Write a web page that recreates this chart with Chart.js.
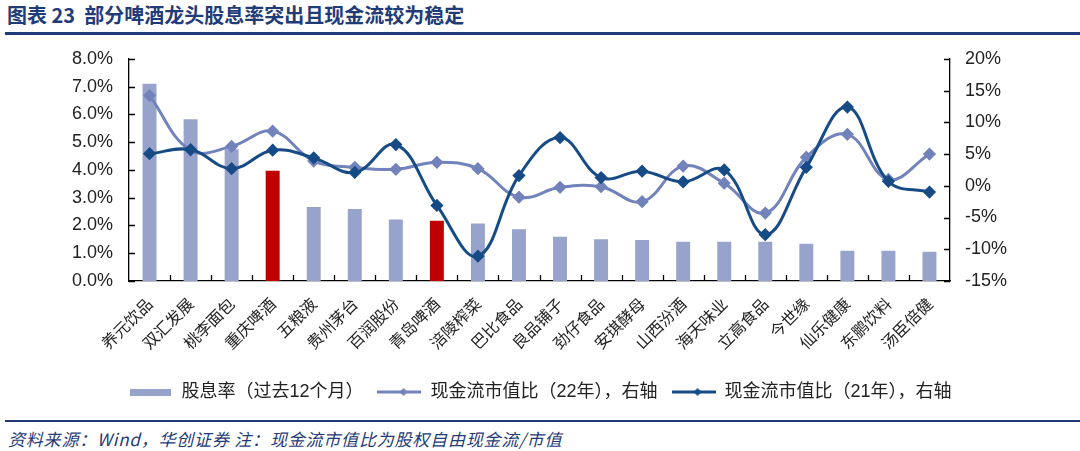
<!DOCTYPE html>
<html>
<head>
<meta charset="utf-8">
<script src="https://cdn.jsdelivr.net/npm/chart.js@4.4.0/dist/chart.umd.min.js"></script>
<style>
  body { margin: 0; width: 1080px; height: 451px; background: #fff; position: relative; overflow: hidden; font-family: "Noto Sans CJK SC", sans-serif; }
  #title { position: absolute; left: 7px; top: 0px; font-size: 20px; font-weight: bold; color: #1f3b78; white-space: pre; }
  #topline { position: absolute; left: 5px; right: 0; top: 32px; height: 3px; background: #1f3b78; }
  #chartBox { position: absolute; left: 0; top: 32px; width: 1080px; height: 379px; }
  #botline { position: absolute; left: 5px; right: 0; top: 420px; height: 2px; background: #1f3b78; }
  #source { position: absolute; left: 8px; top: 426px; font-size: 17px; letter-spacing: 0.8px; font-style: italic; color: #1f3b78; white-space: pre; }
</style>
</head>
<body>
<div id="title">图表 23  部分啤酒龙头股息率突出且现金流较为稳定</div>
<div id="topline"></div>
<div id="chartBox"><canvas id="comboChart"></canvas></div>
<div id="botline"></div>
<div id="source">资料来源：Wind，华创证券 注：现金流市值比为股权自由现金流/市值</div>

<script>
// categories and series
var categories = ['养元饮品', '双汇发展', '桃李面包', '重庆啤酒', '五粮液', '贵州茅台', '百润股份', '青岛啤酒', '涪陵榨菜', '巴比食品',
                  '良品铺子', '劲仔食品', '安琪酵母', '山西汾酒', '海天味业', '立高食品', '今世缘', '仙乐健康', '东鹏饮料', '汤臣倍健'];
var dividendYield = [7.1, 5.82, 4.74, 3.97, 2.66, 2.59, 2.21, 2.17, 2.07, 1.86, 1.59, 1.5, 1.48, 1.41, 1.41, 1.41, 1.34, 1.09, 1.09, 1.05];
var cashFlow22 = [14.2, 5.6, 6.2, 8.6, 3.9, 2.9, 2.6, 3.7, 2.7, -1.8, -0.25, -0.15, -2.5, 3.1, 0.4, -4.3, 4.5, 8.1, 1.0, 5.0];
var cashFlow21 = [5.05, 5.7, 2.7, 5.6, 4.4, 2.1, 6.5, -3.1, -11.1, 1.6, 7.6, 1.3, 2.3, 0.6, 2.5, -7.7, 2.9, 12.4, 0.7, -1.0];
var highlighted = ['重庆啤酒', '青岛啤酒'];
var seriesNames = ['股息率（过去12个月）', '现金流市值比（22年），右轴', '现金流市值比（21年），右轴'];
var leftRange = [0, 8, 1];
var rightRange = [-15, 20, 5];

var barColor = '#98a3cc'
var redColor = '#c00000'
var line22Color = '#7283bb'
var line21Color = '#174b86'

var barColors = categories.map(function (c) {
  return highlighted.indexOf(c) >= 0 ? redColor : barColor;
});

// legend icons
function boxIcon(color) {
  var c = document.createElement('canvas');
  c.width = 41; c.height = 7;
  var g = c.getContext('2d');
  g.fillStyle = color;
  g.fillRect(0, 0, 41, 7);
  return c;
}
function lineIcon(color) {
  var c = document.createElement('canvas');
  c.width = 44; c.height = 12;
  var g = c.getContext('2d');
  g.strokeStyle = color;
  g.lineWidth = 3;
  g.beginPath(); g.moveTo(0, 6); g.lineTo(44, 6); g.stroke();
  g.fillStyle = color;
  g.beginPath(); g.moveTo(26, 2); g.lineTo(30, 6); g.lineTo(26, 10); g.lineTo(22, 6); g.closePath(); g.fill();
  return c;
}
var legendIcons = [boxIcon(barColor), lineIcon(line22Color), lineIcon(line21Color)];

// tick marks pointing into the plot area
var innerTicks = {
  id: 'innerTicks',
  afterDraw: function (chart) {
    var ctx = chart.ctx, a = chart.chartArea;
    var yl = chart.scales.y, yr = chart.scales.y2, x = chart.scales.x;
    ctx.save();
    ctx.strokeStyle = '#000';
    ctx.lineWidth = 1.3;
    ctx.beginPath();
    yl.ticks.forEach(function (t) {
      var py = Math.round(yl.getPixelForValue(t.value)) + 0.5;
      ctx.moveTo(a.left, py); ctx.lineTo(a.left + 6, py);
    });
    yr.ticks.forEach(function (t) {
      var py = Math.round(yr.getPixelForValue(t.value)) + 0.5;
      ctx.moveTo(a.right - 6, py); ctx.lineTo(a.right, py);
    });
    var half = (x.getPixelForValue(1) - x.getPixelForValue(0)) / 2;
    for (var i = 1; i < categories.length; i++) {
      var px = Math.round(x.getPixelForValue(i) - half) + 0.5;
      ctx.moveTo(px, a.bottom); ctx.lineTo(px, a.bottom - 6);
    }
    ctx.stroke();
    ctx.restore();
  }
};

var tickFont = { family: '"Liberation Sans", Arial, sans-serif', size: 18 };

new Chart(document.getElementById('comboChart'), {
  type: 'bar',
  data: {
    labels: categories,
    datasets: [
      {
        type: 'bar',
        label: seriesNames[0],
        data: dividendYield,
        backgroundColor: barColors,
        yAxisID: 'y',
        categoryPercentage: 1,
        barPercentage: 0.34,
        order: 2
      },
      {
        type: 'line',
        label: seriesNames[1],
        data: cashFlow22,
        borderColor: line22Color,
        backgroundColor: line22Color,
        borderWidth: 3,
        pointStyle: 'rectRot',
        pointRadius: 4.5,
        tension: 0.4,
        yAxisID: 'y2',
        order: 1
      },
      {
        type: 'line',
        label: seriesNames[2],
        data: cashFlow21,
        borderColor: line21Color,
        backgroundColor: line21Color,
        borderWidth: 3,
        pointStyle: 'rectRot',
        pointRadius: 4.5,
        tension: 0.4,
        yAxisID: 'y2',
        order: 0
      }
    ]
  },
  options: {
    responsive: true,
    maintainAspectRatio: false,
    animation: false,
    layout: { padding: { top: 10, left: 0, right: 0, bottom: 0 } },
    plugins: {
      tooltip: { enabled: false },
      legend: {
        position: 'bottom',
        labels: {
          usePointStyle: true,
          pointStyleWidth: 44,
          padding: 14,
          color: '#222',
          font: { family: '"Liberation Sans", "Noto Sans CJK SC", sans-serif', size: 18 },
          sort: function (a, b) { return a.datasetIndex - b.datasetIndex; },
          generateLabels: function (chart) {
            var items = Chart.defaults.plugins.legend.labels.generateLabels(chart);
            items.forEach(function (it) {
              it.pointStyle = legendIcons[it.datasetIndex];
            });
            return items;
          }
        }
      }
    },
    scales: {
      x: {
        grid: { display: false, drawTicks: false },
        border: { display: true, color: '#000', width: 1.3 },
        ticks: {
          autoSkip: false,
          maxRotation: 45,
          minRotation: 45,
          padding: 13,
          color: '#222',
          font: { family: '"Noto Sans CJK SC", sans-serif', size: 16 }
        },
        afterFit: function (scale) { scale.height = 88; }
      },
      y: {
        position: 'left',
        min: leftRange[0], max: leftRange[1],
        grid: { display: false, drawTicks: false },
        border: { display: true, color: '#000', width: 1.3 },
        ticks: {
          stepSize: leftRange[2],
          padding: 16,
          color: '#222',
          font: tickFont,
          callback: function (v) { return v.toFixed(1) + '%'; }
        },
        afterFit: function (scale) { scale.width = 129; }
      },
      y2: {
        position: 'right',
        min: rightRange[0], max: rightRange[1],
        grid: { display: false, drawTicks: false },
        border: { display: true, color: '#000', width: 1.3 },
        ticks: {
          stepSize: rightRange[2],
          padding: 15,
          color: '#222',
          font: tickFont,
          callback: function (v) { return v + '%'; }
        },
        afterFit: function (scale) { scale.width = 130; }
      }
    }
  },
  plugins: [innerTicks]
});
</script>
</body>
</html>
